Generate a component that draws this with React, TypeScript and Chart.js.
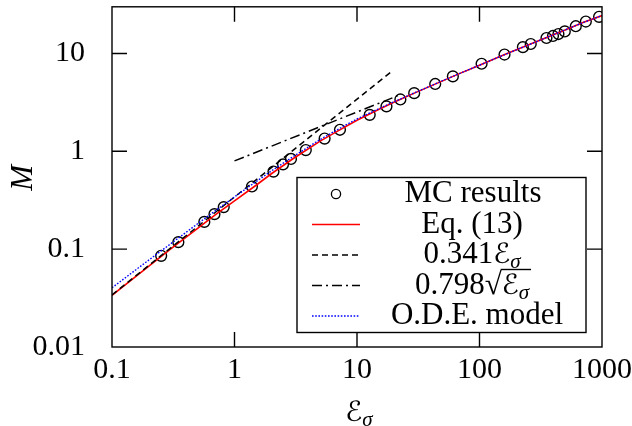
import { useEffect, useRef } from "react";
import { Chart, registerables } from "chart.js";

Chart.register(...registerables);

// ---------- data ----------
const mcE = [0.252, 0.348, 0.567, 0.686, 0.817, 1.388, 2.08, 2.49, 2.89, 3.82, 5.44, 7.26, 12.7, 17.4, 22.6, 29.3, 43.5, 60.6, 104, 160, 226, 262, 352, 398, 441, 497, 611, 738, 947];
const mcM = [0.0855, 0.118, 0.19, 0.228, 0.269, 0.437, 0.621, 0.736, 0.836, 1.03, 1.35, 1.66, 2.36, 2.88, 3.39, 3.93, 4.88, 5.83, 7.85, 9.75, 11.6, 12.5, 14.4, 15.1, 15.8, 16.8, 19.0, 21.2, 23.7];

const eqE = [0.1, 0.2, 0.3, 0.5, 0.7, 1, 1.5, 2, 3, 5, 7, 10, 15, 20, 30, 50, 70, 100, 150, 200, 300, 500, 700, 1000];
const eqM = [0.0337, 0.067, 0.1, 0.163, 0.225, 0.312, 0.45, 0.59, 0.84, 1.27, 1.62, 2.08, 2.68, 3.17, 3.98, 5.25, 6.3, 7.6, 9.4, 10.9, 13.4, 17.4, 20.7, 24.4];

const linE = [0.1, 19];
const linM = [0.0341, 6.48];

const sqrtE = [1, 22];
const sqrtM = [0.798, 3.74];

const odeE = [0.1, 0.2, 0.3, 0.5, 0.7, 1, 1.5, 2, 3, 5, 7, 10, 15, 20, 30, 50, 70, 100, 150, 200, 300, 500, 700, 1000];
const odeM = [0.0403, 0.0775, 0.113, 0.182, 0.248, 0.342, 0.49, 0.63, 0.88, 1.32, 1.68, 2.14, 2.72, 3.2, 4.0, 5.27, 6.3, 7.6, 9.4, 10.9, 13.4, 17.4, 20.7, 24.4];

const xTicks = [0.1, 1, 10, 100, 1000];
const yTicks = [0.01, 0.1, 1, 10];
const xRange = [0.1, 1000];
const yRange = [0.01, 30];

const legendLabels = ["MC results", "Eq. (13)", "0.341", "0.798", "O.D.E. model"];
const calE = "\u2130";
const sigma = "\u03C3";

// ---------- helpers ----------
const FAM = '"Liberation Serif", "DejaVu Serif", "DejaVu Sans", serif';
const RM = `31px ${FAM}`;
const CAL = `28px "DejaVu Serif", "DejaVu Sans", ${FAM}`;
const SUB = `italic 21px ${FAM}`;

const pts = (xs: number[], ys: number[]) => xs.map((x, i) => ({ x, y: ys[i] }));

type Seg = { t: string; font: string; dy?: number; over?: boolean };

function drawSegs(ctx: CanvasRenderingContext2D, segs: Seg[], cx: number, base: number) {
  const widths = segs.map((s) => {
    ctx.font = s.font;
    return ctx.measureText(s.t).width;
  });
  const total = widths.reduce((a, b) => a + b, 0);
  let x = cx - total / 2;
  let ox0 = -1;
  let ox1 = -1;
  segs.forEach((s, i) => {
    ctx.font = s.font;
    ctx.fillText(s.t, x, base + (s.dy || 0));
    if (s.over) {
      if (ox0 < 0) ox0 = x;
      ox1 = x + widths[i];
    }
    x += widths[i];
  });
  if (ox0 >= 0) {
    ctx.beginPath();
    ctx.lineWidth = 1.4;
    ctx.moveTo(ox0 - 1, base - 24);
    ctx.lineTo(ox1 + 2, base - 24);
    ctx.stroke();
  }
}

const framePlugin = {
  id: "frame",
  afterDatasetsDraw(chart: any) {
    const { ctx, chartArea: a, scales } = chart;
    ctx.save();
    ctx.strokeStyle = "#000";
    ctx.lineWidth = 1.4;
    ctx.beginPath();
    const L = 15;
    for (const v of xTicks) {
      const px = scales.x.getPixelForValue(v);
      if (px <= a.left + 1 || px >= a.right - 1) continue;
      ctx.moveTo(px, a.bottom);
      ctx.lineTo(px, a.bottom - L);
      ctx.moveTo(px, a.top);
      ctx.lineTo(px, a.top + L);
    }
    for (const v of yTicks) {
      const py = scales.y.getPixelForValue(v);
      if (py >= a.bottom - 1 || py <= a.top + 1) continue;
      ctx.moveTo(a.left, py);
      ctx.lineTo(a.left + L, py);
      ctx.moveTo(a.right, py);
      ctx.lineTo(a.right - L, py);
    }
    ctx.stroke();
    ctx.strokeRect(a.left, a.top, a.right - a.left, a.bottom - a.top);
    ctx.restore();
  },
  afterDraw(chart: any) {
    const { ctx, chartArea: a } = chart;
    ctx.save();
    ctx.fillStyle = "#000";
    ctx.strokeStyle = "#000";
    ctx.textBaseline = "alphabetic";
    ctx.textAlign = "left";

    // x title
    const cx = (a.left + a.right) / 2 + 2;
    drawSegs(ctx, [{ t: calE, font: CAL }, { t: sigma, font: SUB, dy: 5 }], cx, 421);

    // y title
    ctx.save();
    ctx.translate(32, (a.top + a.bottom) / 2 + 1);
    ctx.rotate(-Math.PI / 2);
    ctx.font = `italic 31px ${FAM}`;
    ctx.textAlign = "center";
    ctx.fillText("M", 0, 0);
    ctx.restore();

    // legend box
    const bx = 297, by = 177.5, bw = 289, bh = 155;
    ctx.lineWidth = 1.4;
    ctx.strokeRect(bx, by, bw, bh);
    const rowY = [194, 224.5, 255, 285.5, 316];
    const sx0 = 312, sx1 = 360, tcx = 472;
    const ds = chart.data.datasets;
    // row 0: circle
    ctx.beginPath();
    ctx.lineWidth = 1.3;
    ctx.arc((sx0 + sx1) / 2, rowY[0], 4.6, 0, Math.PI * 2);
    ctx.stroke();
    // rows 1-4: line samples (dataset order: 0 ode, 1 sqrt, 2 lin, 3 eq)
    const lineIdx = [3, 2, 1, 0];
    lineIdx.forEach((di, k) => {
      const d = ds[di];
      ctx.save();
      ctx.beginPath();
      ctx.strokeStyle = d.borderColor;
      ctx.lineWidth = d.borderWidth;
      ctx.setLineDash(d.borderDash || []);
      ctx.moveTo(sx0, rowY[k + 1]);
      ctx.lineTo(sx1, rowY[k + 1]);
      ctx.stroke();
      ctx.restore();
    });
    ctx.textAlign = "left";
    drawSegs(ctx, [{ t: legendLabels[0], font: RM }], tcx + 1, rowY[0] + 8);
    drawSegs(ctx, [{ t: legendLabels[1], font: RM }], tcx, rowY[1] + 8);
    drawSegs(ctx, [{ t: legendLabels[2], font: RM }, { t: calE, font: CAL }, { t: sigma, font: SUB, dy: 5 }], tcx, rowY[2] + 8);
    drawSegs(
      ctx,
      [
        { t: legendLabels[3], font: RM },
        { t: "\u221A", font: RM },
        { t: calE, font: CAL, over: true },
        { t: sigma, font: SUB, dy: 5, over: true },
      ],
      tcx,
      rowY[3] + 8
    );
    drawSegs(ctx, [{ t: legendLabels[4], font: RM }], tcx + 5, rowY[4] + 8);
    ctx.restore();
  },
};

export default function App() {
  const ref = useRef<HTMLCanvasElement | null>(null);

  useEffect(() => {
    document.body.style.margin = "0";
    const canvas = ref.current;
    if (!canvas) return;
    const tickFont = { family: FAM, size: 30 };
    const chart = new Chart(canvas, {
      type: "scatter",
      data: {
        datasets: [
          {
            label: "O.D.E. model",
            data: pts(odeE, odeM),
            showLine: true,
            borderColor: "#0000ff",
            borderWidth: 1.4,
            borderDash: [1.6, 1.6],
            pointRadius: 0,
            fill: false,
          },
          {
            label: "0.798 sqrt(E)",
            data: pts(sqrtE, sqrtM),
            showLine: true,
            borderColor: "#000",
            borderWidth: 1.5,
            borderDash: [10, 4, 2, 4],
            pointRadius: 0,
            fill: false,
          },
          {
            label: "0.341 E",
            data: pts(linE, linM),
            showLine: true,
            borderColor: "#000",
            borderWidth: 1.5,
            borderDash: [6, 4],
            pointRadius: 0,
            fill: false,
          },
          {
            label: "Eq. (13)",
            data: pts(eqE, eqM),
            showLine: true,
            borderColor: "#ff0000",
            borderWidth: 1.6,
            pointRadius: 0,
            fill: false,
          },
          {
            label: "MC results",
            data: pts(mcE, mcM),
            showLine: false,
            pointStyle: "circle",
            pointRadius: 5.4,
            pointBorderWidth: 1.4,
            borderColor: "#000",
            backgroundColor: "rgba(0,0,0,0)",
            pointBackgroundColor: "rgba(0,0,0,0)",
          },
        ],
      },
      options: {
        responsive: false,
        animation: false,
        devicePixelRatio: 1,
        layout: { padding: { top: 5, right: 30, left: 0, bottom: 0 } },
        plugins: { legend: { display: false }, tooltip: { enabled: false } },
        scales: {
          x: {
            type: "logarithmic",
            min: xRange[0],
            max: xRange[1],
            grid: { display: false, drawTicks: false },
            border: { display: false },
            ticks: {
              font: tickFont,
              color: "#000",
              padding: 5,
              autoSkip: false,
              maxRotation: 0,
              callback: (v: any) => String(v),
            },
            afterBuildTicks: (s: any) => {
              s.ticks = xTicks.map((value) => ({ value }));
            },
            afterFit: (s: any) => {
              s.height = 79;
              s.paddingLeft = 0;
              s.paddingRight = 0;
            },
          },
          y: {
            type: "logarithmic",
            min: yRange[0],
            max: yRange[1],
            grid: { display: false, drawTicks: false },
            border: { display: false },
            ticks: {
              font: tickFont,
              color: "#000",
              padding: 27,
              autoSkip: false,
              callback: (v: any) => String(v),
            },
            afterBuildTicks: (s: any) => {
              s.ticks = yTicks.map((value) => ({ value }));
            },
            afterFit: (s: any) => {
              s.width = 112;
              s.paddingTop = 0;
              s.paddingBottom = 0;
            },
          },
        },
      },
      plugins: [framePlugin],
    } as any);
    return () => chart.destroy();
  }, []);

  return (
    <div style={{ position: "absolute", left: 0, top: 0, width: 632, height: 426, background: "#fff" }}>
      <canvas ref={ref} width={632} height={426} style={{ display: "block" }} />
    </div>
  );
}
